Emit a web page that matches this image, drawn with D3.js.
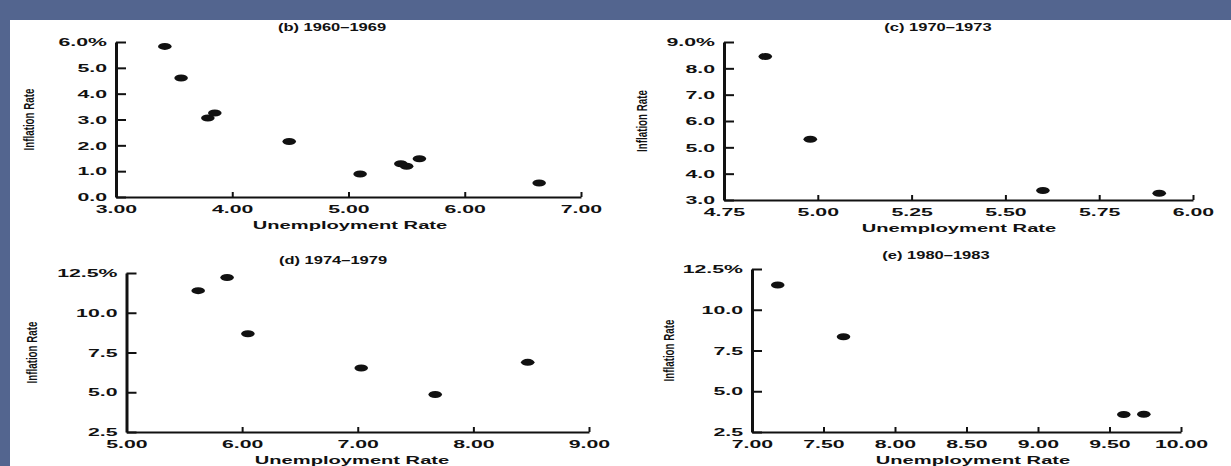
<!DOCTYPE html>
<html lang="en">
<head>
<meta charset="UTF-8">
<title>Inflation and unemployment</title>
<script src="https://d3js.org/d3.v7.min.js"></script>
<style>
  body { margin: 0; }
  text { fill: #111; font-family: "Liberation Sans", Arial, sans-serif; }
</style>
</head>
<body>
<div id="chart"></div>
<script>
// values
const titles = ['(b) 1960\u20131969', '(c) 1970\u20131973', '(d) 1974\u20131979', '(e) 1980\u20131983'];

const unemp6069 = [3.42, 3.56, 3.79, 3.85, 4.49, 5.10, 5.45, 5.50, 5.61, 6.64];
const infl6069 = [5.83, 4.61, 3.06, 3.25, 2.15, 0.89, 1.29, 1.19, 1.48, 0.54];

const unemp7073 = [4.86, 4.98, 5.60, 5.91];
const infl7073 = [8.45, 5.31, 3.36, 3.26];

const unemp7479 = [5.62, 5.87, 6.05, 7.03, 7.67, 8.47];
const infl7479 = [11.39, 12.22, 8.68, 6.52, 4.86, 6.88];

const unemp8083 = [7.18, 7.64, 9.60, 9.74];
const infl8083 = [11.52, 8.34, 3.57, 3.59];

const xTicks6069 = [3, 4, 5, 6, 7];
const yTicks6069 = [0, 1, 2, 3, 4, 5, 6];
const xTicks7073 = [4.75, 5, 5.25, 5.5, 5.75, 6];
const yTicks7073 = [3, 4, 5, 6, 7, 8, 9];
const xTicks7479 = [5, 6, 7, 8, 9];
const yTicks7479 = [2.5, 5, 7.5, 10, 12.5];
const xTicks8083 = [7, 7.5, 8, 8.5, 9, 9.5, 10];
const yTicks8083 = [2.5, 5, 7.5, 10, 12.5];

const xTitle = 'Unemployment Rate';
const yTitle = 'Inflation Rate';

// layout of each panel on the page
const panels = [
  {title: titles[0], xs: unemp6069, ys: infl6069, xt: xTicks6069, yt: yTicks6069,
   x0: 116, x1: 581, y0: 197, y1: 42, titleX: 332, titleY: 31, labelX: 29, xTitleX: 350},
  {title: titles[1], xs: unemp7073, ys: infl7073, xt: xTicks7073, yt: yTicks7073,
   x0: 724, x1: 1193, y0: 200, y1: 42, titleX: 938, titleY: 31, labelX: 642, xTitleX: 959},
  {title: titles[2], xs: unemp7479, ys: infl7479, xt: xTicks7479, yt: yTicks7479,
   x0: 126.5, x1: 589, y0: 432, y1: 273, titleX: 333, titleY: 264, labelX: 32, xTitleX: 352},
  {title: titles[3], xs: unemp8083, ys: infl8083, xt: xTicks8083, yt: yTicks8083,
   x0: 752, x1: 1181, y0: 432, y1: 269, titleX: 936, titleY: 259, labelX: 669, xTitleX: 973}
];

const svg = d3.select('#chart').append('svg')
  .attr('width', 1231)
  .attr('height', 466);

svg.append('rect').attr('width', 1231).attr('height', 466).attr('fill', '#53658f');
svg.append('rect').attr('x', 10).attr('y', 20).attr('width', 1221).attr('height', 446).attr('fill', '#fff');

const tickStretch = 1.85;

panels.forEach(p => {
  const g = svg.append('g');
  const x = d3.scaleLinear().domain(d3.extent(p.xt)).range([p.x0, p.x1]);
  const y = d3.scaleLinear().domain(d3.extent(p.yt)).range([p.y0, p.y1]);
  const top = p.yt[p.yt.length - 1];

  const xAxis = g.append('g')
    .attr('transform', `translate(0,${p.y0})`)
    .call(d3.axisBottom(x).tickValues(p.xt).tickFormat(d3.format('.2f'))
      .tickSizeInner(-5).tickSizeOuter(0).tickPadding(8));
  xAxis.select('.domain').attr('stroke', '#111').attr('stroke-width', 2);
  xAxis.selectAll('.tick line').attr('stroke', '#111').attr('stroke-width', 2);
  xAxis.selectAll('.tick text')
    .attr('font-size', 11.5)
    .attr('font-weight', 'bold')
    .attr('transform', `scale(${tickStretch},1)`);

  const yAxis = g.append('g')
    .attr('transform', `translate(${p.x0},0)`)
    .call(d3.axisLeft(y).tickValues(p.yt)
      .tickFormat(d => d3.format('.1f')(d) + (d === top ? '%' : ''))
      .tickSizeInner(-10).tickSizeOuter(0));
  yAxis.select('.domain').attr('stroke', '#111').attr('stroke-width', 3);
  yAxis.selectAll('.tick line').attr('stroke', '#111').attr('stroke-width', 2);
  yAxis.selectAll('.tick text')
    .attr('x', -9 / tickStretch)
    .attr('font-size', 11.5)
    .attr('font-weight', 'bold')
    .attr('transform', `scale(${tickStretch},1)`);

  g.selectAll('ellipse')
    .data(p.xs.map((d, i) => [d, p.ys[i]]))
    .enter()
    .append('ellipse')
      .attr('cx', d => x(d[0]))
      .attr('cy', d => y(d[1]))
      .attr('rx', 6.8)
      .attr('ry', 3.5)
      .attr('fill', '#111');

  g.append('text')
    .attr('transform', `translate(${p.titleX},${p.titleY}) scale(1.5,1)`)
    .attr('text-anchor', 'middle')
    .attr('font-size', 11)
    .attr('font-weight', 'bold')
    .text(p.title);

  g.append('text')
    .attr('transform', `translate(${p.xTitleX},${p.y0 + 32}) scale(1.75,1)`)
    .attr('text-anchor', 'middle')
    .attr('font-size', 11.5)
    .attr('font-weight', 'bold')
    .text(xTitle);

  // rotated y title, narrow and heavy like the scan
  g.append('text')
    .attr('transform', `translate(${p.labelX},${(p.y0 + p.y1) / 2}) rotate(-90) scale(1,1.25)`)
    .attr('text-anchor', 'middle')
    .attr('dy', '0.35em')
    .attr('font-size', 12)
    .attr('font-weight', 'bold')
    .style('font-family', '"Liberation Sans Narrow", "Liberation Sans", Arial, sans-serif')
    .attr('textLength', 62)
    .attr('lengthAdjust', 'spacingAndGlyphs')
    .text(yTitle);
});
</script>
</body>
</html>
